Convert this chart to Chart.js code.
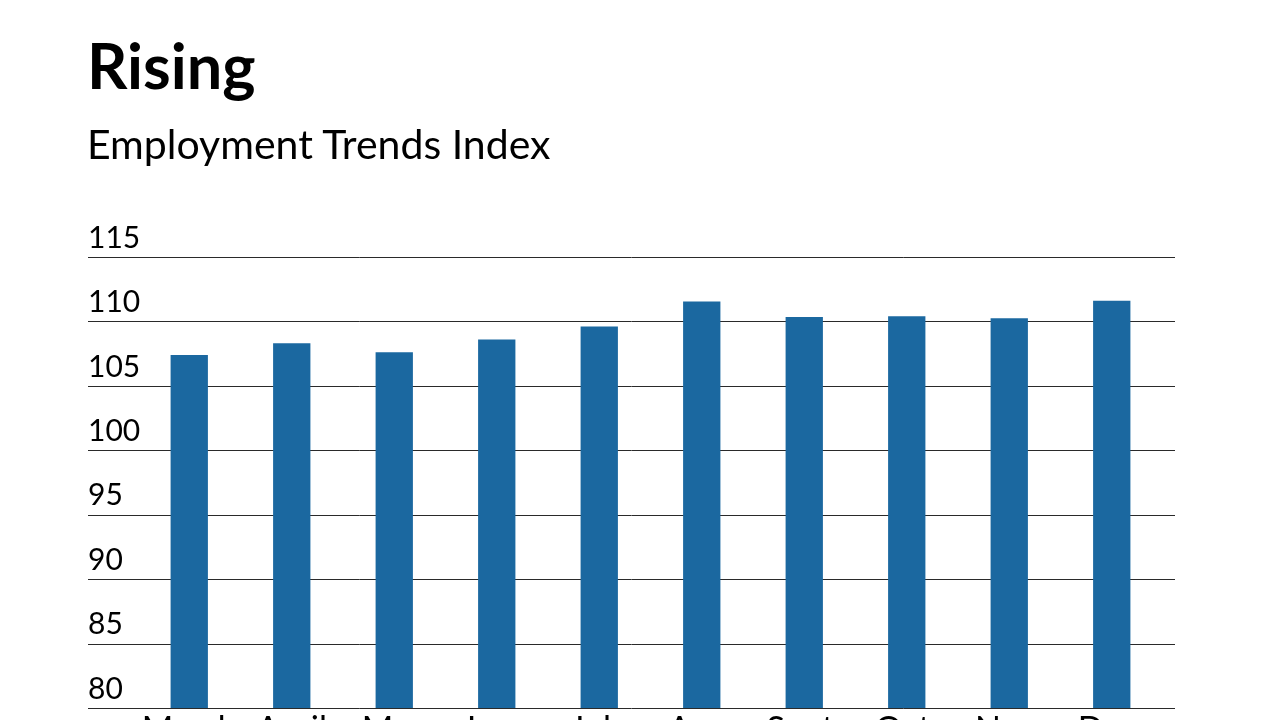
<!DOCTYPE html>
<html>
<head>
<meta charset="utf-8">
<script src="https://cdn.jsdelivr.net/npm/chart.js@4.4.0/dist/chart.umd.min.js"></script>
<style>
html, body { margin: 0; padding: 0; width: 1280px; height: 720px; overflow: hidden; background: #fff; }
#wrap { position: absolute; left: 0; top: 0; width: 1280px; height: 760px; }
.t { position: absolute; left: 87px; font-family: Lato, "Noto Sans", sans-serif; color: #000; line-height: 1; white-space: nowrap; z-index: 2; }
#title { top: 33px; font-size: 63px; font-weight: 700; }
#sub { top: 123px; font-size: 41px; font-weight: 400; }
</style>
</head>
<body>
<div id="title" class="t">Rising</div>
<div id="sub" class="t">Employment Trends Index</div>
<div id="wrap"><canvas id="c" width="1280" height="760"></canvas></div>
<script>
const categories = ["March", "April", "May", "June", "July", "Aug.", "Sept.", "Oct.", "Nov.", "Dec."];
const indexValues = [107.4, 108.3, 107.6, 108.6, 109.6, 111.55, 110.35, 110.4, 110.25, 111.6];
const yTickValues = [80, 85, 90, 95, 100, 105, 110, 115];

const fullGrid = {
  id: 'fullGrid',
  beforeDatasetsDraw(chart) {
    const y = chart.scales.y;
    const ctx = chart.ctx;
    ctx.save();
    ctx.strokeStyle = '#2a2a2a';
    ctx.lineWidth = 1;
    y.ticks.forEach(t => {
      const py = Math.round(y.getPixelForValue(t.value)) + 0.5;
      ctx.beginPath();
      ctx.moveTo(y.left, py);
      ctx.lineTo(chart.chartArea.right + 12, py);
      ctx.stroke();
    });
    ctx.restore();
  }
};

new Chart(document.getElementById('c'), {
  type: 'bar',
  data: {
    labels: categories,
    datasets: [{
      data: indexValues,
      backgroundColor: '#1b68a0',
      borderWidth: 0,
      barPercentage: 0.364,
      categoryPercentage: 1.0
    }]
  },
  options: {
    responsive: false,
    animation: false,
    devicePixelRatio: 1,
    layout: { padding: { top: 257, left: 88, right: 117, bottom: 0 } },
    plugins: { legend: { display: false }, tooltip: { enabled: false } },
    scales: {
      x: {
        offset: true,
        grid: { display: false, drawTicks: false },
        border: { display: false },
        ticks: {
          font: { family: 'Lato', size: 34 },
          color: '#000',
          padding: 2,
          maxRotation: 0,
          autoSkip: false
        },
        afterFit(scale) { scale.height = 52; }
      },
      y: {
        min: 80,
        max: 115,
        afterBuildTicks(scale) { scale.ticks = yTickValues.map(v => ({ value: v })); },
        afterFit(scale) { scale.width = 50; },
        grid: { display: false, drawTicks: false },
        border: { display: false },
        ticks: {
          mirror: true,
          crossAlign: 'near',
          padding: -50,
          labelOffset: -19,
          font: { family: 'Lato', size: 30 },
          color: '#000'
        }
      }
    }
  },
  plugins: [fullGrid]
});
</script>
</body>
</html>
